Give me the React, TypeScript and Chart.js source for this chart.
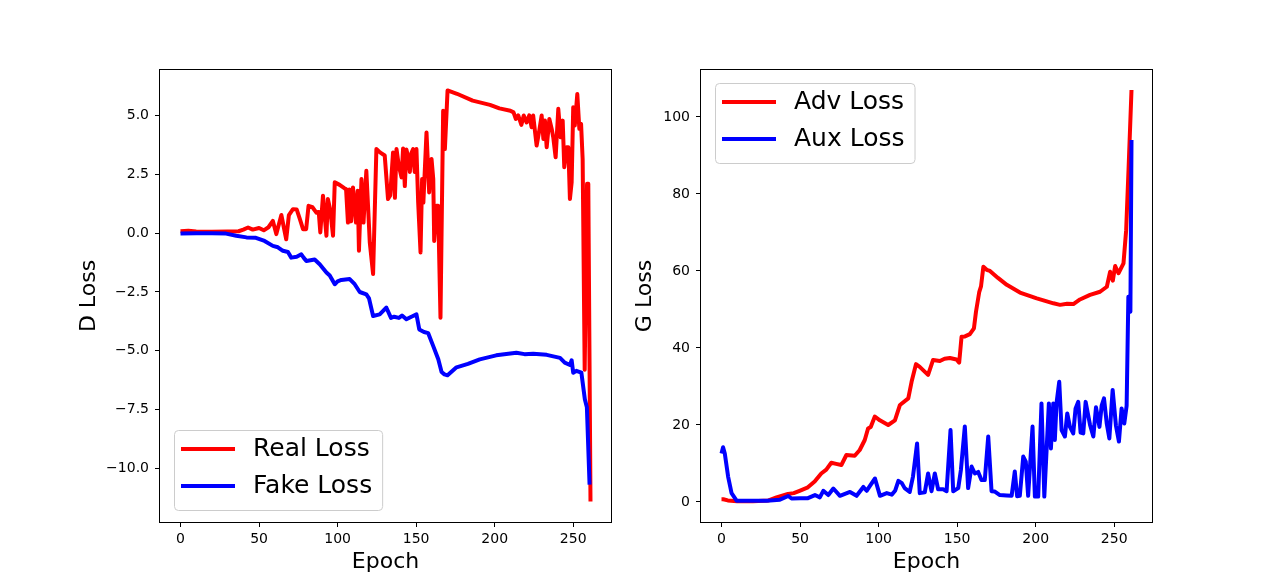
import { useEffect, useRef } from 'react';
import { Chart, registerables } from 'chart.js';

Chart.register(...registerables);

Chart.defaults.font.family = "'DejaVu Sans', sans-serif";
Chart.defaults.color = '#000';

// D loss - real
const realEpochs = [
  0, 5, 10, 20, 30, 37, 40, 43, 46, 50, 53, 56, 58.8, 61, 64.2, 67.3, 69, 71.6, 74, 76,
  78, 80, 81.5, 84, 86.5, 88, 89, 90.7, 92.9, 93.8, 95.3, 97.1, 98.2, 101.3, 104.5, 105.4, 106.6, 107.5, 108.6, 109.8,
  111.7, 112.8, 113.6, 115.2, 116.5, 118.3, 120.5, 122.6, 124.7, 127, 130, 132.1, 133.5, 135.3, 136.5, 137.5, 139, 140.7, 141.7, 142.8,
  143.8, 145, 146, 147, 148.1, 149.1, 150.2, 151.3, 152.8, 153.8, 154.6, 156.6, 158.3, 159.8, 160.9, 161.5, 163, 164, 165.5, 167.2,
  168.3, 170, 176, 186, 197, 203, 210, 212, 213.5, 215, 217, 218.5, 220.3, 222, 223.5, 224.5, 226.7, 228.5, 229.9, 231,
  232, 233.1, 234.8, 236.3, 237.3, 238.8, 240.5, 242, 243.3, 244.3, 245.8, 246.9, 247.9, 249, 250, 251, 252.6, 253.9, 255, 256,
  257.3, 258.8, 259.6, 261,
];
const realLoss = [
  0.08, 0.1, 0.07, 0.06, 0.07, 0.08, 0.15, 0.24, 0.15, 0.22, 0.12, 0.25, 0.52, -0.04, 0.77, -0.26, 0.77, 1.02, 1.0, 0.6,
  0.17, 0.17, 1.16, 1.1, 0.87, 0.9, 0.03, 1.59, -0.11, 1.45, 1.0, -0.11, 2.16, 2.05, 1.9, 1.87, 0.45, 1.85, 0.5, 1.94,
  0.45, 1.8, -0.75, 2.3, 0.45, 2.65, -0.4, -1.74, 3.57, 3.43, 3.3, 1.45, 1.6, 3.43, 1.5, 3.57, 2.85, 2.37, 3.6, 2.0,
  3.55, 3.2, 2.6, 3.4, 3.57, 2.6, 3.57, 1.3, -0.82, 2.3, 1.3, 4.28, 1.73, 3.15, 2.3, -0.33, 1.16, 1.16, -3.59, 5.2,
  3.57, 6.06, 5.92, 5.63, 5.45, 5.3, 5.2, 5.13, 4.85, 5.0, 4.6, 5.0, 4.7, 5.0, 4.5, 5.0, 3.72, 4.4, 5.0, 4.0,
  4.78, 3.65, 4.85, 4.43, 4.07, 3.22, 5.28, 4.07, 4.78, 2.8, 3.65, 3.65, 1.45, 2.16, 5.35, 4.57, 5.91, 4.43, 4.64, 3.15,
  -5.8, 2.1, 2.1, -11.4,
];

// D loss - fake
const fakeEpochs = [
  0, 10, 20, 29, 35.5, 42, 48, 53.5, 58.8, 62, 65.2, 68.4, 70.5, 74, 76.9, 78.5, 80.1, 85.4, 88.6, 92.9,
  95, 98.2, 100, 102.4, 107.7, 110.9, 114.1, 118.3, 120, 122.6, 126.8, 131, 134, 136, 139, 141, 143.8, 147, 150.2, 152,
  155, 157.7, 160.9, 164.1, 166.2, 168, 170, 175.7, 183, 190.5, 201, 213.8, 219, 224.5, 233.1, 241.6, 244.6, 247.9, 249, 250,
  252, 255.2, 257.4, 258.7, 260.4,
];
const fakeLoss = [
  -0.02, 0.0, 0.0, -0.02, -0.11, -0.18, -0.2, -0.33, -0.54, -0.6, -0.75, -0.8, -1.04, -1.0, -0.9, -1.05, -1.18, -1.12, -1.32, -1.67,
  -1.8, -2.17, -2.05, -1.99, -1.95, -2.17, -2.5, -2.6, -2.77, -3.52, -3.45, -3.16, -3.6, -3.55, -3.6, -3.5, -3.66, -3.55, -3.45, -4.09,
  -4.2, -4.25, -4.8, -5.36, -5.9, -6.0, -6.04, -5.7, -5.55, -5.36, -5.19, -5.08, -5.14, -5.12, -5.17, -5.3, -5.5, -5.6, -5.4, -5.93,
  -5.85, -5.93, -7.06, -7.4, -10.68,
];

// G loss - adversarial
const advEpochs = [
  0, 1.2, 4, 10, 20, 30, 35, 42.3, 46, 49.7, 55, 59.3, 63.5, 66.7, 69.9, 73, 76.3, 79.5, 84.8, 88,
  91.2, 93.3, 95, 97.6, 100.8, 106.1, 110.4, 113.6, 118.9, 121, 123.8, 126.2, 129, 131.5, 134.7, 139, 142, 145.4, 149.6, 151.3,
  152.8, 155, 158.1, 160.7, 162, 164.1, 165.2, 166.7, 168.8, 170.9, 176, 181.6, 190, 200.7, 211.3, 215.5, 220, 224, 228.2, 234.6,
  241, 245.3, 247.4, 249.1, 250.6, 252.7, 255.9, 257.6, 259.1, 261,
];
const advLoss = [
  0.7, 0.7, 0.4, 0.2, 0.2, 0.4, 1.2, 2.1, 2.3, 2.9, 3.8, 5.3, 7.4, 8.4, 10.2, 9.9, 9.6, 12.2, 12.0, 13.5,
  16.1, 19.1, 19.5, 22.2, 21.2, 20.0, 21.2, 25.2, 26.9, 31.2, 35.8, 35.1, 34, 33.0, 36.9, 36.6, 37.2, 37.4, 37.0, 36.2,
  42.9, 43.0, 43.6, 45.1, 49.4, 54.6, 56, 61.1, 60.3, 60.0, 58.2, 56.4, 54.4, 52.9, 51.6, 51.2, 51.5, 51.4, 52.6, 53.8,
  54.6, 55.9, 59.8, 57.5, 61.3, 59.4, 62.0, 70.6, 86.2, 107,
];

// G loss - auxiliary
const auxEpochs = [
  0, 1, 2.1, 4.2, 6.4, 9.6, 20, 28.7, 37.2, 42.5, 44.6, 50, 55, 59.5, 62.6, 64.8, 68, 71.2, 75.4, 81.8,
  86, 90.3, 92.4, 94.5, 97.7, 100.9, 105.2, 108.4, 110.5, 112.6, 114.8, 116.6, 119.8, 121.9, 124.5, 126.2, 129.4, 131.5, 133.7, 135.8,
  137.9, 141.1, 143.3, 145.8, 147.5, 150.7, 152.4, 154.9, 157, 159.2, 161.3, 163.4, 165.5, 167.6, 169.8, 171.9, 174, 177.2, 181.5, 184.7,
  186.7, 188.2, 189.9, 192.1, 193.7, 195.2, 198, 199.5, 201.6, 203.7, 205.5, 208.4, 209.7, 211.2, 212.2, 213.3, 215, 216.5, 218.6, 220.1,
  221.8, 223.9, 225.4, 227.1, 228.6, 230.3, 231.8, 234.6, 236.7, 238.4, 240.6, 242, 243.5, 245.2, 246.9, 249, 251.1, 253, 254.7, 256.4,
  257.9, 259, 260.3, 261,
];
const auxLoss = [
  12.6, 14.2, 12.6, 6.6, 2.3, 0.35, 0.3, 0.35, 0.6, 1.56, 0.9, 1.0, 1.0, 1.8, 1.2, 2.9, 1.8, 3.5, 1.6, 2.6,
  1.6, 3.9, 2.9, 4.2, 6.1, 1.6, 2.3, 1.9, 2.9, 5.5, 4.9, 3.6, 2.6, 6.6, 15.2, 2.3, 2.5, 7.4, 2.8, 7.4,
  3.3, 3.3, 2.8, 18.7, 2.8, 3.6, 8.3, 19.6, 3.6, 9.2, 7.4, 7.8, 5.7, 5.7, 17, 2.8, 2.7, 1.8, 1.7, 1.6,
  7.9, 1.5, 1.6, 11.8, 10.5, 1.6, 19.6, 1.4, 1.4, 25.6, 1.4, 25.6, 13.9, 25.6, 16.1, 25.8, 31.2, 18.7, 17, 23,
  19.5, 17.8, 24.3, 26, 18, 17.8, 26, 20, 17, 24.6, 19.5, 25, 26.9, 20.5, 16.5, 29.1, 19.8, 15.7, 24.3, 20.4,
  25, 53.3, 49.4, 94,
];

const epochTicks = [0, 50, 100, 150, 200, 250];
const dLossTicks = [-10, -7.5, -5, -2.5, 0, 2.5, 5];
const gLossTicks = [0, 20, 40, 60, 80, 100];

const toPoints = (xs: number[], ys: number[]) => xs.map((x, i) => ({ x, y: ys[i] }));

// spines + matplotlib-style legend drawn inside the axes
const framePlugin = {
  id: 'frameLegend',
  afterDraw(chart: any, _args: any, opts: any) {
    const { ctx, chartArea: a } = chart;
    ctx.save();
    ctx.strokeStyle = '#000';
    ctx.lineWidth = 1;
    ctx.strokeRect(Math.round(a.left) - 0.5, Math.round(a.top) - 0.5,
      Math.round(a.right - a.left) + 1, Math.round(a.bottom - a.top) + 1);

    const items = chart.data.datasets.map((d: any) => ({ label: d.label, color: d.borderColor }));
    ctx.font = "25px 'DejaVu Sans', sans-serif";
    const textW = Math.max(...items.map((it: any) => ctx.measureText(it.label).width));
    const w = 79 + textW + 10;
    const h = 80;
    const x = a.left + 14;
    const y = opts.corner === 'lower' ? a.bottom - 12 - h : a.top + 13;

    ctx.beginPath();
    ctx.roundRect(x + 0.5, y + 0.5, w, h, 4);
    ctx.fillStyle = 'rgba(255,255,255,0.8)';
    ctx.fill();
    ctx.strokeStyle = '#cccccc';
    ctx.stroke();

    items.forEach((it: any, i: number) => {
      const ly = y + 19 + i * 37;
      ctx.beginPath();
      ctx.moveTo(x + 7, ly);
      ctx.lineTo(x + 61, ly);
      ctx.strokeStyle = it.color;
      ctx.lineWidth = 4;
      ctx.stroke();
      ctx.fillStyle = '#000';
      ctx.textBaseline = 'middle';
      ctx.textAlign = 'left';
      ctx.fillText(it.label, x + 79, ly);
    });
    ctx.restore();
  },
};

interface LossChartProps {
  series: { label: string; color: string; xs: number[]; ys: number[]; order: number }[];
  yTitle: string;
  yTicks: number[];
  yMin: number;
  yMax: number;
  decimals: number;
  corner: 'lower' | 'upper';
  padLeft: number;
  yWidth: number;
  padRight: number;
}

function LossChart({ series, yTitle, yTicks, yMin, yMax, decimals, corner, padLeft, yWidth, padRight }: LossChartProps) {
  const canvasRef = useRef<HTMLCanvasElement>(null);
  const chartRef = useRef<any>(null);

  useEffect(() => {
    if (!canvasRef.current) return;
    if (chartRef.current) chartRef.current.destroy();

    const tickGrid = {
      display: true,
      drawOnChartArea: false,
      drawTicks: true,
      tickLength: 5,
      color: '#000',
      lineWidth: 1,
    };

    chartRef.current = new Chart(canvasRef.current, {
      type: 'line',
      data: {
        datasets: series.map((s) => ({
          label: s.label,
          data: toPoints(s.xs, s.ys),
          borderColor: s.color,
          backgroundColor: s.color,
          borderWidth: 4,
          borderJoinStyle: 'round' as const,
          pointRadius: 0,
          tension: 0,
          order: s.order,
        })),
      },
      options: {
        responsive: true,
        maintainAspectRatio: false,
        animation: false,
        layout: { padding: { left: padLeft, right: padRight, top: 70, bottom: 0 } },
        plugins: {
          legend: { display: false },
          tooltip: { enabled: false },
          frameLegend: { corner },
        } as any,
        scales: {
          x: {
            type: 'linear',
            min: -13.05,
            max: 274.05,
            border: { display: false },
            grid: tickGrid,
            afterBuildTicks: (scale: any) => {
              scale.ticks = epochTicks.map((value) => ({ value }));
            },
            afterFit: (scale: any) => {
              scale.height = 65;
            },
            ticks: {
              autoSkip: false,
              maxRotation: 0,
              padding: 4,
              font: { size: 14 },
              callback: (v: any) => String(v),
            },
            title: {
              display: true,
              text: 'Epoch',
              font: { size: 22 },
              padding: { top: 0, bottom: 12 },
            },
          },
          y: {
            type: 'linear',
            min: yMin,
            max: yMax,
            border: { display: false },
            grid: tickGrid,
            afterBuildTicks: (scale: any) => {
              scale.ticks = yTicks.map((value) => ({ value }));
            },
            afterFit: (scale: any) => {
              scale.width = yWidth;
            },
            ticks: {
              autoSkip: false,
              padding: 6,
              font: { size: 14 },
              callback: (v: any) => Number(v).toFixed(decimals).replace('-', '\u2212'),
            },
            title: {
              display: true,
              text: yTitle,
              font: { size: 22 },
              padding: { top: 0, bottom: 0 },
            },
          },
        },
      },
      plugins: [framePlugin],
    });

    return () => {
      if (chartRef.current) {
        chartRef.current.destroy();
        chartRef.current = null;
      }
    };
  }, []);

  return <canvas ref={canvasRef}></canvas>;
}

export default function App() {
  return (
    <div style={{ position: 'fixed', left: 0, top: 0, width: 1280, height: 587, background: '#fff' }}>
      <div style={{ position: 'absolute', left: 0, top: 0, width: 620, height: 587 }}>
        <LossChart
          series={[
            { label: 'Real Loss', color: '#ff0000', xs: realEpochs, ys: realLoss, order: 1 },
            { label: 'Fake Loss', color: '#0000ff', xs: fakeEpochs, ys: fakeLoss, order: 0 },
          ]}
          yTitle="D Loss"
          yTicks={dLossTicks}
          yMin={-12.27}
          yMax={6.93}
          decimals={1}
          corner="lower"
          padLeft={76}
          yWidth={84}
          padRight={9}
        />
      </div>
      <div style={{ position: 'absolute', left: 620, top: 0, width: 660, height: 587 }}>
        <LossChart
          series={[
            { label: 'Adv Loss', color: '#ff0000', xs: advEpochs, ys: advLoss, order: 1 },
            { label: 'Aux Loss', color: '#0000ff', xs: auxEpochs, ys: auxLoss, order: 0 },
          ]}
          yTitle="G Loss"
          yTicks={gLossTicks}
          yMin={-5.2}
          yMax={112.2}
          decimals={0}
          corner="upper"
          padLeft={12}
          yWidth={69}
          padRight={128}
        />
      </div>
    </div>
  );
}
